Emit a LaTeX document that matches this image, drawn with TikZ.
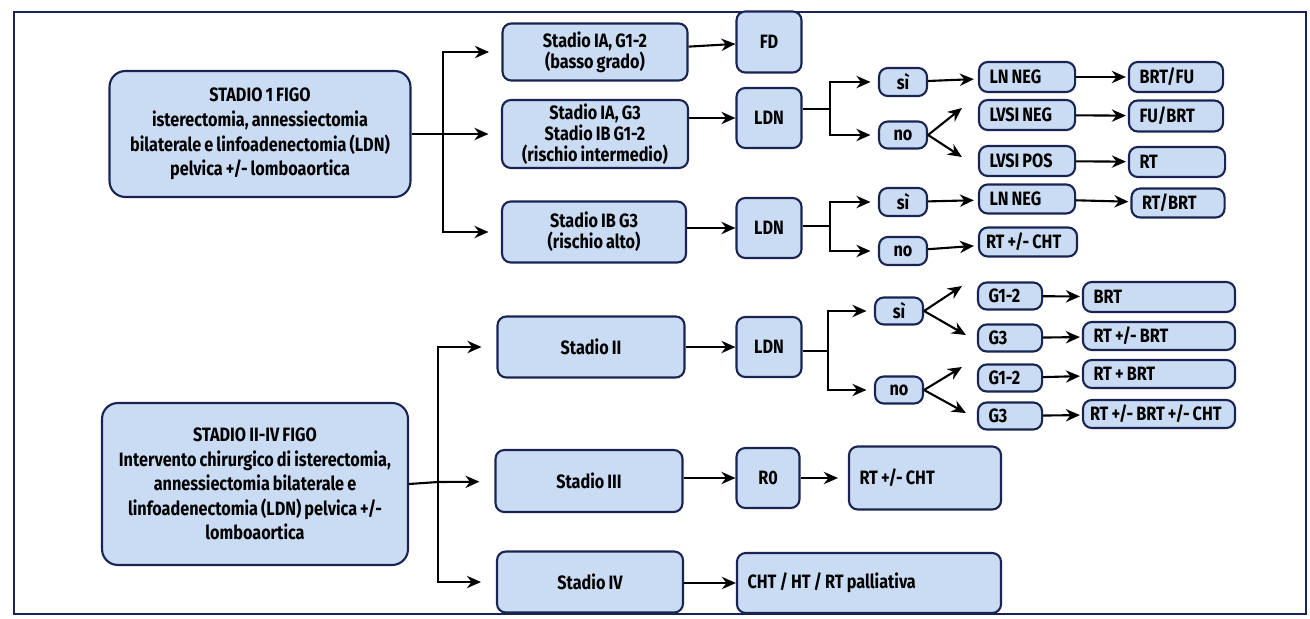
\documentclass[tikz,border=0pt]{standalone}
\usepackage{fontspec}
\setmainfont{Fira Sans}[FakeStretch=0.84, WordSpace=0.8]
\usetikzlibrary{calc, arrows.meta}

\definecolor{boxblue}{RGB}{202,220,243}
\definecolor{boxline}{RGB}{26,36,82}

\tikzset{
    box/.style={draw=boxline, fill=boxblue, line width=1.2pt, rounded corners=5pt,
        align=center, inner sep=2pt, text=black,
        font=\bfseries\fontsize{11}{12}\selectfont},
    bigbox/.style={box, rounded corners=9pt, font=\bfseries\fontsize{11}{14}\selectfont},
    leftbox/.style={box, align=flush left, inner xsep=6pt},
    flow/.style={-{Stealth[length=8pt, width=7pt]}, line width=1.2pt},
    trunk/.style={line width=1.2pt},
}

\begin{document}
\begin{tikzpicture}[x=0.02cm, y=-0.02cm]
    \useasboundingbox (0,0) rectangle (1310,618);
    % frame
    \draw[boxline, line width=1.4pt] (14,12) rectangle (1306,614);

    % left column
    \node[bigbox, minimum width=6.02cm, minimum height=2.52cm] (s1) at (260,134)
        {STADIO 1 FIGO\\isterectomia, annessiectomia\\bilaterale e linfoadenectomia (LDN)\\pelvica +/- lomboaortica};
    \node[bigbox, minimum width=6.12cm, minimum height=3.24cm] (s24) at (255,484)
        {STADIO II-IV FIGO\\Intervento chirurgico di isterectomia,\\annessiectomia bilaterale e\\linfoadenectomia (LDN) pelvica +/-\\lomboaortica};

    % stadi
    \node[box, minimum width=3.7cm, minimum height=1.14cm] (ia12) at (595,52) {Stadio IA, G1-2\\(basso grado)};
    \node[box, minimum width=3.72cm, minimum height=1.3cm] (ia3) at (595,134) {Stadio IA, G3\\Stadio IB G1-2\\(rischio intermedio)};
    \node[box, minimum width=3.68cm, minimum height=1.22cm] (ib3) at (594,232) {Stadio IB G3\\(rischio alto)};
    \node[box, minimum width=3.74cm, minimum height=1.22cm] (st2) at (591,347) {Stadio II};
    \node[box, minimum width=3.74cm, minimum height=1.24cm] (st3) at (589,481) {Stadio III};
    \node[box, minimum width=3.72cm, minimum height=1.22cm] (st4) at (590,582) {Stadio IV};

    % second step
    \node[box, minimum width=1.3cm, minimum height=1.22cm] (fd) at (769,42) {FD};
    \node[box, minimum width=1.3cm, minimum height=1.2cm] (ldna) at (769,118) {LDN};
    \node[box, minimum width=1.3cm, minimum height=1.2cm] (ldnb) at (769,228) {LDN};
    \node[box, minimum width=1.3cm, minimum height=1.2cm] (ldnc) at (769,347) {LDN};
    \node[box, minimum width=1.26cm, minimum height=1.2cm] (rzero) at (768,478) {R0};
    \node[leftbox, text width=2.62cm, minimum height=1.26cm] (rtcht) at (925,478) {RT +/- CHT};
    \node[leftbox, text width=4.86cm, minimum height=1.2cm] (pall) at (869,583) {CHT / HT / RT palliativa};

    % si / no
    \node[box, minimum width=0.96cm, minimum height=0.56cm] (sia) at (903,82) {sì};
    \node[box, minimum width=0.96cm, minimum height=0.54cm] (noa) at (903,135) {no};
    \node[box, minimum width=0.96cm, minimum height=0.56cm] (sib) at (903,202) {sì};
    \node[box, minimum width=0.96cm, minimum height=0.56cm] (nob) at (903,251) {no};
    \node[box, minimum width=0.96cm, minimum height=0.54cm] (sic) at (899,311) {sì};
    \node[box, minimum width=0.96cm, minimum height=0.54cm] (noc) at (899,390) {no};

    % esiti
    \node[leftbox, text width=1.5cm, minimum height=0.6cm] (lnnega) at (1027,77) {LN NEG};
    \node[leftbox, text width=1.5cm, minimum height=0.6cm] (lvsineg) at (1027,115) {LVSI NEG};
    \node[leftbox, text width=1.5cm, minimum height=0.6cm] (lvsipos) at (1027,161) {LVSI POS};
    \node[leftbox, text width=1.5cm, minimum height=0.58cm] (lnnegb) at (1027,199) {LN NEG};
    \node[leftbox, text width=1.68cm, minimum height=0.58cm, inner xsep=4pt] (rtchtb) at (1028,242) {RT +/- CHT};
    \node[leftbox, text width=1.46cm, minimum height=0.6cm] (brtfu) at (1176,77) {BRT/FU};
    \node[leftbox, text width=1.46cm, minimum height=0.62cm] (fubrt) at (1176,116) {FU/BRT};
    \node[leftbox, text width=1.5cm, minimum height=0.6cm] (rt) at (1177,162) {RT};
    \node[leftbox, text width=1.44cm, minimum height=0.58cm] (rtbrt) at (1178,203) {RT/BRT};
    \node[leftbox, text width=0.86cm, minimum height=0.54cm] (g12a) at (1010,296) {G1-2};
    \node[leftbox, text width=0.86cm, minimum height=0.54cm] (g3a) at (1010,338) {G3};
    \node[leftbox, text width=0.86cm, minimum height=0.54cm] (g12b) at (1010,378) {G1-2};
    \node[leftbox, text width=0.86cm, minimum height=0.54cm] (g3b) at (1010,416) {G3};
    \node[leftbox, text width=2.62cm, minimum height=0.6cm] (brt) at (1159,297) {BRT};
    \node[leftbox, text width=2.62cm, minimum height=0.56cm] (rtpmbrt) at (1159,336) {RT +/- BRT};
    \node[leftbox, text width=2.62cm, minimum height=0.56cm] (rtplusbrt) at (1159,374) {RT + BRT};
    \node[leftbox, text width=2.76cm, minimum height=0.56cm, inner xsep=4pt] (rtbrtcht) at (1159,414) {RT +/- BRT +/- CHT};

    % branch points
    \coordinate (ja) at (443,134);
    \coordinate (jb) at (438,482);
    \coordinate (ka) at (830,109);
    \coordinate (kb) at (830,226);
    \coordinate (kc) at (828,351);

    % stadio 1
    \draw[trunk] (s1.east) -- (ja);
    \draw[flow, shorten >=0.25cm] (ja) |- (ia12);
    \draw[flow, shorten >=0.25cm] (ja) -- (ia3);
    \draw[flow, shorten >=0.25cm] (ja) |- (ib3);
    \draw[flow] (ia12) -- (fd);
    \draw[flow] (ia3.east |- ldna) -- (ldna);
    \draw[flow] (ib3.east |- ldnb) -- (ldnb);

    \draw[trunk] (ldna.east |- ka) -- (ka);
    \draw[flow, shorten >=0.15cm] (ka) |- (sia);
    \draw[flow, shorten >=0.15cm] (ka) |- (noa);
    \draw[flow, shorten >=0.08cm] (sia) -- (lnnega);
    \draw[flow] (noa.east) -- ($(lvsineg.west)+(-16,-7)$);
    \draw[flow] (noa.east) -- ($(lvsipos.west)+(-16,-4)$);
    \draw[flow, shorten >=0.04cm] (lnnega) -- (brtfu);
    \draw[flow, shorten >=0.04cm] (lvsineg) -- (fubrt);
    \draw[flow, shorten >=0.04cm] (lvsipos) -- (rt);

    \draw[trunk] (ldnb.east |- kb) -- (kb);
    \draw[flow, shorten >=0.15cm] (kb) |- (sib);
    \draw[flow, shorten >=0.15cm] (kb) |- (nob);
    \draw[flow, shorten >=0.08cm] (sib) -- (lnnegb);
    \draw[flow, shorten >=0.08cm] (nob) -- (rtchtb);
    \draw[flow, shorten >=0.04cm] (lnnegb) -- (rtbrt);

    % stadio II-IV
    \draw[trunk] (s24.east) -- (jb);
    \draw[flow, shorten >=0.3cm] (jb) |- (st2);
    \draw[flow, shorten >=0.3cm] (jb) -- (st3);
    \draw[flow, shorten >=0.3cm] (jb) |- (st4);
    \draw[flow] (st2) -- (ldnc);
    \draw[flow] (st3.east |- rzero) -- (rzero);
    \draw[flow, shorten >=0.2cm] (rzero) -- (rtcht);
    \draw[flow] (st4.east |- pall) -- (pall);

    \draw[trunk] (ldnc.east |- kc) -- (kc);
    \draw[flow, shorten >=0.15cm] (kc) |- (sic);
    \draw[flow, shorten >=0.15cm] (kc) |- (noc);
    \draw[flow] (sic.east) -- ($(g12a.west)+(-15,-10)$);
    \draw[flow] (sic.east) -- ($(g3a.west)+(-11,-3)$);
    \draw[flow] (noc.east) -- ($(g12b.west)+(-15,-11)$);
    \draw[flow] (noc.east) -- ($(g3b.west)+(-11,-3)$);
    \draw[flow, shorten >=0.04cm] (g12a) -- (brt);
    \draw[flow, shorten >=0.04cm] (g3a) -- (rtpmbrt);
    \draw[flow, shorten >=0.04cm] (g12b) -- (rtplusbrt);
    \draw[flow, shorten >=0.04cm] (g3b) -- (rtbrtcht);
\end{tikzpicture}
\end{document}
